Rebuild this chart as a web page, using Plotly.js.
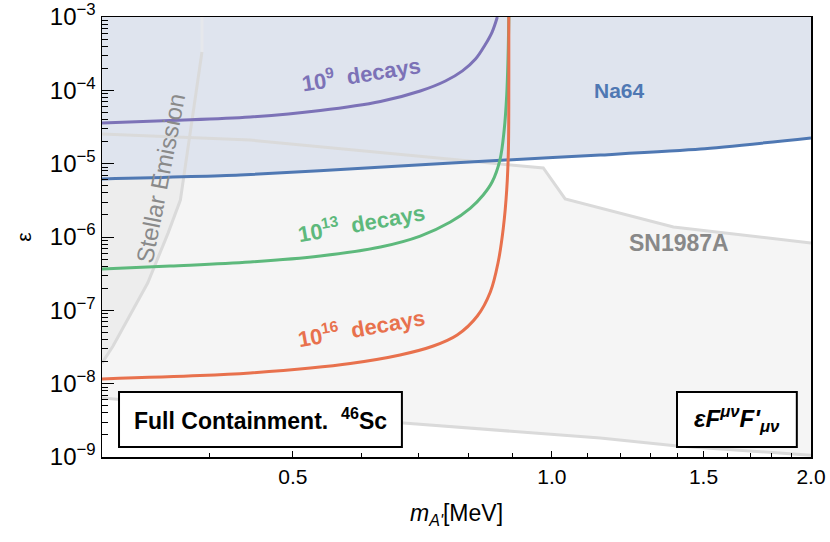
<!DOCTYPE html>
<html>
<head>
<meta charset="utf-8">
<script src="https://cdn.plot.ly/plotly-3.0.1.min.js"></script>
<style>html,body{margin:0;padding:0;background:#fff;}#chart{width:830px;height:542px;}</style>
</head>
<body>
<div id="chart"></div>
<script>
// ---- data (mass in MeV, epsilon) ----
var na64X = [0.300, 0.434, 0.666, 0.883, 1.138, 1.488, 2.000];
var na64Y = [6.18e-6, 7.0e-6, 9.29e-6, 1.12e-5, 1.31e-5, 1.58e-5, 2.24e-5];

var snUpperX = [0.300, 0.446, 0.825, 0.977, 1.036, 1.384, 2.000];
var snUpperY = [2.54e-5, 2.10e-5, 1.05e-5, 8.73e-6, 3.30e-6, 1.37e-6, 8.28e-7];
var snLowerX = [0.300, 0.672, 1.138, 1.399, 2.000];
var snLowerY = [6.37e-9, 2.90e-9, 1.82e-9, 1.41e-9, 1.06e-9];

var stellarX = [0.392, 0.392, 0.380, 0.370, 0.358, 0.339, 0.309, 0.300];
var stellarY = [1.0e-3, 3.33e-4, 2.62e-5, 3.19e-6, 1.13e-6, 2.36e-7, 3.26e-8, 1.91e-8];

var d9X = [0.300, 0.360, 0.446, 0.538, 0.632, 0.703, 0.752, 0.787, 0.815, 0.836, 0.852, 0.864];
var d9Y = [3.59e-5, 3.88e-5, 4.33e-5, 5.31e-5, 7.05e-5, 9.79e-5, 1.34e-4, 1.84e-4, 2.67e-4, 4.15e-4, 6.24e-4, 1.0e-3];

var d13X = [0.300, 0.360, 0.446, 0.538, 0.632, 0.703, 0.762, 0.804, 0.832, 0.852, 0.870, 0.880, 0.886, 0.889, 0.891];
var d13Y = [3.66e-7, 4.02e-7, 4.56e-7, 5.51e-7, 7.31e-7, 1.03e-6, 1.60e-6, 2.48e-6, 3.74e-6, 5.62e-6, 1.12e-5, 2.88e-5, 8.63e-5, 2.59e-4, 1.0e-3];

var d16X = [0.300, 0.390, 0.446, 0.524, 0.583, 0.666, 0.728, 0.776, 0.819, 0.848, 0.866, 0.878, 0.886, 0.890, 0.891, 0.891];
var d16Y = [1.16e-8, 1.29e-8, 1.40e-8, 1.63e-8, 1.88e-8, 2.46e-8, 3.26e-8, 4.61e-8, 8.37e-8, 1.78e-7, 4.56e-7, 1.33e-6, 4.38e-6, 1.53e-5, 1.38e-4, 1.0e-3];

// ---- axis ticks ----
var xTickVals = [0.5, 1.0, 1.5, 2.0];
var xTickText = ['0.5', '1.0', '1.5', '2.0'];
var xMinorVals = [0.4, 0.6, 0.7, 0.8, 0.9, 1.1, 1.2, 1.3, 1.4, 1.6, 1.7, 1.8, 1.9];
var yTickVals = [1e-9, 1e-8, 1e-7, 1e-6, 1e-5, 1e-4, 1e-3];
var yTickText = ['10<sup>\u22129</sup>', '10<sup>\u22128</sup>', '10<sup>\u22127</sup>', '10<sup>\u22126</sup>', '10<sup>\u22125</sup>', '10<sup>\u22124</sup>', '10<sup>\u22123</sup>'];

var X_MIN = 0.3, X_MAX = 2.0, Y_MIN = 1e-9, Y_MAX = 1e-3;

var yMinorVals = [];
for (var e = -9; e < -3; e++) {
  for (var m = 2; m <= 9; m++) yMinorVals.push(m * Math.pow(10, e));
}

// ---- colours ----
var cNa = '#4f78b3', cNaFill = '#dfe4ee';
var cSnFill = '#f5f5f5', cGrayLine = '#dadada';
var cPurple = '#7c72b7', cGreen = '#5db97c', cRed = '#e8714d';

var traces = [];
// SN1987A region
traces.push({
  x: snUpperX.concat([X_MAX]).concat(snLowerX.slice().reverse()),
  y: snUpperY.concat([snLowerY[snLowerY.length - 1]]).concat(snLowerY.slice().reverse()),
  mode: 'lines', fill: 'toself', fillcolor: cSnFill, line: {width: 0}, hoverinfo: 'skip'
});
// Stellar emission region
traces.push({
  x: stellarX.concat([X_MIN]),
  y: stellarY.concat([Y_MAX]),
  mode: 'lines', fill: 'toself', fillcolor: 'rgba(0,0,0,0.03)', line: {width: 0}, hoverinfo: 'skip'
});
// Na64 region
traces.push({
  x: na64X.concat([X_MAX, X_MIN]),
  y: na64Y.concat([Y_MAX, Y_MAX]),
  mode: 'lines', fill: 'toself', fillcolor: cNaFill, line: {width: 0}, hoverinfo: 'skip'
});
// boundary lines
traces.push({x: snUpperX, y: snUpperY, mode: 'lines', line: {color: cGrayLine, width: 3}});
traces.push({x: snLowerX, y: snLowerY, mode: 'lines', line: {color: cGrayLine, width: 3}});
traces.push({x: stellarX.slice(0, 2), y: stellarY.slice(0, 2), mode: 'lines', line: {color: '#e6e8ec', width: 3}});
traces.push({x: stellarX.slice(1), y: stellarY.slice(1), mode: 'lines', line: {color: cGrayLine, width: 3}});
traces.push({x: na64X, y: na64Y, mode: 'lines', line: {color: cNa, width: 3, shape: 'spline', smoothing: 0.6}});
// decay contours
traces.push({x: d9X, y: d9Y, mode: 'lines', line: {color: cPurple, width: 3, shape: 'spline', smoothing: 1}});
traces.push({x: d13X, y: d13Y, mode: 'lines', line: {color: cGreen, width: 3, shape: 'spline', smoothing: 1}});
traces.push({x: d16X, y: d16Y, mode: 'lines', line: {color: cRed, width: 3, shape: 'spline', smoothing: 1}});

var FONT = 'Liberation Sans, Arial, Helvetica, sans-serif';

function note(x, y, text, size, color, angle) {
  return {xref: 'paper', yref: 'paper', x: x, y: y, xanchor: 'center', yanchor: 'middle',
          showarrow: false, text: text, textangle: angle || 0,
          font: {size: size, color: color, family: FONT}};
}

var layout = {
  width: 830, height: 542,
  margin: {l: 102, r: 19, t: 17, b: 85},
  paper_bgcolor: '#ffffff', plot_bgcolor: '#ffffff',
  showlegend: false,
  font: {family: FONT, color: '#000', size: 20},
  xaxis: {
    type: 'log', range: [Math.log10(X_MIN), Math.log10(X_MAX)],
    tickmode: 'array', tickvals: xTickVals, ticktext: xTickText,
    ticks: 'inside', ticklen: 6, tickwidth: 1, tickcolor: '#000',
    minor: {tickmode: 'array', tickvals: xMinorVals, ticks: 'inside', ticklen: 4, tickwidth: 1, tickcolor: '#000', showgrid: false},
    showgrid: false, zeroline: false,
    showline: true, linecolor: '#000', linewidth: 1.5, mirror: true,
    tickfont: {size: 21, family: FONT},
    title: {text: '<i>m</i><sub><i>A\'</i></sub>[MeV]', font: {size: 23, family: FONT}, standoff: 18}
  },
  yaxis: {
    type: 'log', range: [-9, -3],
    tickmode: 'array', tickvals: yTickVals, ticktext: yTickText,
    ticks: 'inside', ticklen: 12, tickwidth: 1, tickcolor: '#000',
    minor: {tickmode: 'array', tickvals: yMinorVals, ticks: 'inside', ticklen: 6, tickwidth: 1, tickcolor: '#000', showgrid: false},
    showgrid: false, zeroline: false,
    showline: true, linecolor: '#000', linewidth: 1.5, mirror: true,
    tickfont: {size: 24, family: FONT},
    title: {text: '\u03b5', font: {size: 21, family: FONT}, standoff: 12}
  },
  shapes: [
    {type: 'rect', xref: 'paper', yref: 'paper', x0: 0.024, x1: 0.423, y0: 0.0227, y1: 0.1477,
     line: {color: '#000', width: 2}, fillcolor: '#ffffff', layer: 'above'},
    {type: 'rect', xref: 'paper', yref: 'paper', x0: 0.811, x1: 0.980, y0: 0.0227, y1: 0.1477,
     line: {color: '#000', width: 2}, fillcolor: '#ffffff', layer: 'above'}
  ],
  annotations: [
    note(0.223, 0.0864, '<b>Full Containment.  <sup>46</sup>Sc</b>', 23, '#000'),
    note(0.8956, 0.0864, '<b><i>\u03b5F<sup>\u03bc\u03bd</sup>F\'<sub>\u03bc\u03bd</sub></i></b>', 24, '#000'),
    note(0.366, 0.873, '<b>10<sup>9</sup>  decays</b>', 22, cPurple, -9),
    note(0.366, 0.534, '<b>10<sup>13</sup>  decays</b>', 22, cGreen, -10),
    note(0.366, 0.295, '<b>10<sup>16</sup>  decays</b>', 22, cRed, -10),
    note(0.7306, 0.834, '<b>Na64</b>', 21, cNa),
    note(0.814, 0.486, '<b>SN1987A</b>', 23, '#888888'),
    note(0.082, 0.634, 'Stellar Emission', 24, '#8a8a8a', -79)
  ]
};

Plotly.newPlot('chart', traces, layout, {staticPlot: true, displayModeBar: false});
</script>
</body>
</html>
